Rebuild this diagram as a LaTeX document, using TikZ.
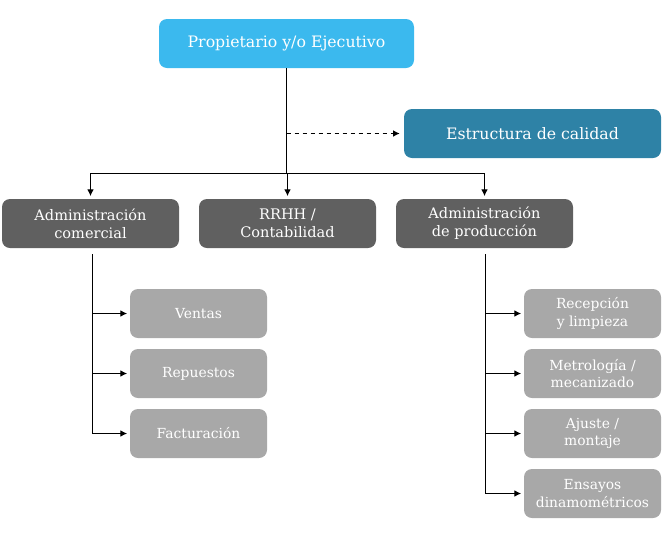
\documentclass[tikz,border=0pt]{standalone}
\usepackage{fontspec}
\setmainfont{DejaVu Serif}
\usepackage{tikz}
\usetikzlibrary{arrows,arrows.meta,calc,positioning}
\definecolor{ownerblue}{HTML}{3BB9EE}
\definecolor{qualityblue}{HTML}{2E82A6}
\definecolor{deptgray}{HTML}{606060}
\definecolor{taskgray}{HTML}{A8A8A8}

\begin{document}
\begin{tikzpicture}[
    x=0.75pt, y=-0.75pt,
    >={Latex[length=5pt,width=5pt]},
    box/.style={rectangle, rounded corners=6pt, text=white, align=center, inner sep=0},
    owner/.style={box, fill=ownerblue, minimum width=191.25pt, minimum height=36.75pt, font=\fontsize{11.8}{13}\selectfont},
    quality/.style={box, fill=qualityblue, minimum width=192.75pt, minimum height=36.75pt, font=\fontsize{11.8}{13}\selectfont},
    dept/.style={box, fill=deptgray, minimum width=132.75pt, minimum height=36.75pt, font=\fontsize{10.9}{13.5}\selectfont},
    task/.style={box, fill=taskgray, minimum width=102.75pt, minimum height=36.75pt, font=\fontsize{10.4}{13}\selectfont},
    link/.style={line width=0.75pt, black},
    tip/.style={link, ->, shorten >=2pt}]
\useasboundingbox (0,0) rectangle (672,533);

% top level
\node[owner]   (owner)   at (286.5,43.5)  {Propietario y/o Ejecutivo};
\node[quality] (quality) at (532.5,133.5) {Estructura de calidad};

% departments
\node[dept] (admcom)  at (90.5,223.5)  {Administración\\comercial};
\node[dept] (rrhh)    at (287.5,223.5) {RRHH /\\Contabilidad};
\node[dept] (admprod) at (484.5,223.5) {Administración\\de producción};

% tasks
\node[task] (ventas)    at (198.5,313.5) {Ventas};
\node[task] (repuestos) at (198.5,373.5) {Repuestos};
\node[task] (factura)   at (198.5,433.5) {Facturación};

\node[task] (recepcion) at (592.5,313.5) {Recepción\\y limpieza};
\node[task] (metro)     at (592.5,373.5) {Metrología /\\mecanizado};
\node[task] (ajuste)    at (592.5,433.5) {Ajuste /\\montaje};
\node[task] (ensayos)   at (592.5,493.5) {Ensayos\\dinamométricos};

\coordinate (split) at (287,173);
\coordinate (comline) at (92,0);
\coordinate (prodline) at (485,0);

% connectors
\path[draw, link] (owner.south) -- (owner.south |- split);
\path[draw, link] (admcom.north |- split) -- (admprod.north |- split);
\path[draw, tip] (admcom.north |- split) -- (admcom.north);
\path[draw, tip] (rrhh.north |- split) -- (rrhh.north);
\path[draw, tip] (admprod.north |- split) -- (admprod.north);
\path[draw, link, dashed, ->, shorten >=3pt] (owner.south |- quality.west) -- (quality.west);

\path[draw, link] ([yshift=-4.5pt]comline |- admcom.south) -- (comline |- factura.west);
\path[draw, tip] (comline |- ventas.west) -- (ventas.west);
\path[draw, tip] (comline |- repuestos.west) -- (repuestos.west);
\path[draw, tip] (comline |- factura.west) -- (factura.west);

\path[draw, link] ([yshift=-4.5pt]prodline |- admprod.south) -- (prodline |- ensayos.west);
\path[draw, tip] (prodline |- recepcion.west) -- (recepcion.west);
\path[draw, tip] (prodline |- metro.west) -- (metro.west);
\path[draw, tip] (prodline |- ajuste.west) -- (ajuste.west);
\path[draw, tip] (prodline |- ensayos.west) -- (ensayos.west);

\end{tikzpicture}
\end{document}
